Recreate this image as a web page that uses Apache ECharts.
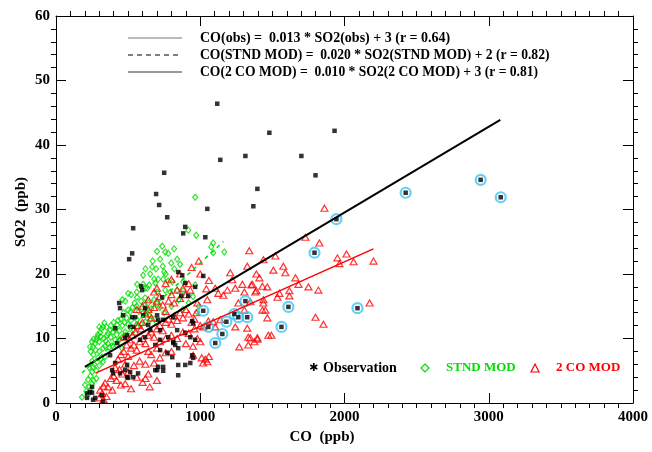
<!DOCTYPE html>
<html><head><meta charset="utf-8">
<script src="https://cdn.jsdelivr.net/npm/echarts@6/dist/echarts.min.js"></script>
<style>html,body{margin:0;padding:0;background:#fff}
#wrap{position:relative;width:652px;height:452px}
#axes,#c{position:absolute;left:0;top:0;width:652px;height:452px}</style>
</head><body><div id="wrap"><div id="axes"></div><div id="c"></div></div>
<script>
// Axis ticks
const xTicks = [0, 1000, 2000, 3000, 4000];
const yTicks = [0, 10, 20, 30, 40, 50, 60];

// Observation points [CO, SO2]
const obsPoints = [
[1118,46.4],[1479,41.9],[1931,42.2],[1139,37.7],[1313,38.3],[1701,38.3],[1799,35.3],[750,35.7],[1396,33.2],[694,32.4],
[715,30.7],[1049,30.1],[1368,30.5],[771,28.8],[535,27.1],[896,27.3],[882,26.3],[1035,25.7],[528,23.2],[507,22.3],
[847,20.3],[875,19.8],[1021,19.7],[896,18.6],[590,18.1],[597,17.5],[965,18.0],[438,15.5],[444,14.7],[618,14.7],
[528,13.3],[549,13.3],[701,13.6],[708,12.9],[813,13.3],[410,11.6],[514,11.8],[653,11.3],[722,11.3],[840,11.3],
[479,10.1],[618,10.2],[688,9.0],[722,8.2],[813,9.3],[847,8.5],[375,7.4],[410,6.2],[389,5.1],[396,4.6],
[493,5.9],[514,4.8],[569,4.6],[493,4.0],[535,4.0],[688,5.1],[743,5.6],[847,5.9],[896,5.9],[847,4.3],
[236,1.7],[257,0.5],[319,1.2],[326,0.2],[215,1.5],[868,16.6],[917,16.6],[736,16.4],[743,12.9],[944,12.7],
[951,12.4],[896,10.9],[931,10.2],[965,9.8],[722,9.8],[778,10.2],[813,9.5],[826,9.0],[806,7.1],[771,7.8],
[944,7.4],[951,7.0],[931,6.2],[743,5.0],[465,13.6],[604,13.6],[535,11.8],[639,12.1],[493,10.5],[424,9.3],
[583,9.8],[708,5.6],[701,5.1],[479,5.1],[444,4.6],[500,3.9],[250,2.5],[215,0.8],[271,0.8],[250,1.6]
];
// Highlighted (circled) observation points
const circledPoints = [
[2424,32.6],[2944,34.6],[3083,31.9],[1944,28.5],[1792,23.3],[1611,14.9],[1563,11.8],[2090,14.7],[1021,14.3],
[1056,11.8],[1104,9.3],[1153,10.7],[1181,12.6],[1236,13.8],[1264,13.3],[1313,15.8],[1326,13.3]
];
// STND MOD points
const stndPoints = [
[965,31.9],[917,26.8],[972,26.0],[1090,24.8],[1076,24.2],[1167,23.4],[1090,23.3],[736,24.3],[757,23.4],[778,23.2],
[819,23.9],[722,22.3],[799,21.7],[840,22.3],[667,21.1],[694,20.8],[750,20.3],[653,20.0],[743,19.2],[681,19.2],
[708,19.2],[778,18.9],[806,18.8],[604,18.4],[688,18.6],[882,18.8],[562,18.4],[646,18.3],[618,17.8],[840,17.5],
[882,17.4],[701,17.2],[965,18.3],[757,17.5],[792,17.2],[562,16.4],[618,16.3],[604,19.8],[632,17.8],[979,14.1],
[500,14.4],[514,14.1],[604,13.9],[653,12.9],[562,12.9],[424,12.1],[326,11.8],[375,11.3],[306,10.9],[354,10.5],
[285,10.2],[257,8.7],[236,8.7],[326,8.5],[410,9.8],[458,8.5],[292,7.0],[326,6.4],[257,5.6],[250,4.8],
[222,3.6],[201,2.8],[236,2.0],[180,0.9],[280,9.8],[300,9.5],[310,10.3],[330,10.0],[345,9.6],[360,10.8],
[380,10.2],[395,11.0],[410,11.5],[420,10.6],[440,11.2],[460,12.0],[475,12.5],[480,11.0],[500,12.2],[520,12.8],
[530,14.8],[545,15.5],[560,15.0],[575,14.2],[590,15.8],[610,15.2],[625,14.0],[640,15.5],[660,14.6],[680,16.0],
[700,15.4],[720,14.8],[490,13.2],[470,14.0],[450,13.0],[430,12.8],[400,12.5],[380,12.0],[350,11.8],[335,12.4],
[315,11.5],[300,11.8],[290,10.6],[270,9.2],[260,9.9],[250,9.5],[240,8.0],[260,7.5],[275,8.2],[300,8.0],
[340,8.8],[360,9.2],[370,8.6],[390,8.9],[420,9.0],[440,9.8],[460,10.2],[510,10.8],[540,11.3],[560,11.8],
[590,12.2],[620,12.6],[650,13.5],[680,13.0],[700,12.5],[250,6.5],[230,5.5],[265,6.0],[280,5.0],[300,5.8],
[240,4.2],[260,3.5],[230,2.5],[250,3.0],[210,1.8],[220,1.2],[280,3.8],[310,6.8],[340,7.2],[750,14.0],
[800,15.0],[850,16.0],[880,14.5],[920,15.5],[950,16.5],[990,15.0],[520,16.8],[560,17.2],[480,15.8],[500,17.0],
[460,16.0],[620,20.8],[670,22.0],[700,23.5],[740,21.2],[760,20.0],[820,20.8],[860,21.5]
];
// 2 CO MOD points
const twoCoPoints = [
[1729,25.7],[1826,24.8],[1861,30.2],[1438,22.2],[1521,22.8],[1951,22.5],[2014,23.1],[2063,21.9],[1965,21.6],[2201,22.0],
[1576,21.2],[1507,20.6],[1590,20.2],[1660,19.4],[1681,18.4],[1410,19.4],[1361,18.4],[1431,18.1],[1465,18.0],[1389,17.4],
[1750,18.0],[1819,17.5],[1618,17.4],[1549,17.0],[1618,16.6],[1535,16.4],[1438,16.0],[1438,15.5],[1431,14.4],[1451,14.4],
[1465,13.2],[2174,15.5],[1799,13.3],[1854,12.2],[1472,10.5],[1493,10.5],[1347,10.1],[1396,9.9],[1375,9.5],[1340,23.6],
[1326,21.2],[1208,20.2],[1389,20.0],[1222,19.1],[1292,18.4],[1354,18.3],[931,17.5],[1104,17.8],[1188,17.5],[1243,17.8],
[1306,17.2],[1382,17.2],[1125,17.0],[1049,16.0],[1347,15.7],[1264,15.5],[1306,14.4],[1090,12.6],[1056,12.7],[1139,12.9],
[1021,11.8],[1104,11.8],[1243,11.8],[1326,11.6],[1333,10.2],[1396,10.1],[1042,17.7],[1160,16.7],[972,14.0],[1271,8.7],
[1333,9.0],[1049,6.4],[1035,6.8],[1060,7.2],[1020,6.2],[1010,7.0],[951,7.4],
[320,1.5],[306,2.0],[340,3.1],[360,2.5],[380,3.8],[400,4.2],[420,3.5],[440,5.2],[460,4.5],[480,6.0],
[350,1.0],[330,2.6],[390,2.0],[410,5.5],[430,6.8],[450,7.5],[470,8.0],[500,7.2],[520,8.5],[540,9.0],
[560,8.2],[580,9.5],[600,10.0],[620,9.2],[640,10.5],[660,11.0],[680,10.2],[700,11.5],[720,12.0],[740,11.2],
[760,12.5],[780,13.0],[800,12.2],[820,13.5],[840,12.8],[860,14.0],[880,13.2],[900,14.5],[920,13.8],[940,12.5],
[960,13.0],[980,15.5],[600,12.5],[620,13.8],[640,14.5],[660,13.2],[680,14.8],[700,15.8],[720,16.5],[740,15.2],
[760,14.2],[780,15.8],[800,16.8],[820,15.5],[840,17.5],[860,16.2],[880,17.8],[900,16.8],[920,18.5],[550,11.0],
[570,12.0],[590,11.5],[530,10.5],[510,9.8],[490,9.0],[470,10.2],[640,8.0],[660,7.5],[700,8.5],[720,9.5],
[760,10.0],[800,10.5],[840,10.0],[880,11.0],[920,10.8],[960,11.5],[1000,12.0],[620,6.0],[580,6.5],[540,5.8],
[500,4.8],[560,4.0],[600,3.2],[640,4.5],[680,6.2],[720,7.0],[760,7.8],[800,8.0],[900,9.2],[950,8.8],
[980,10.0],[1000,9.5],[650,2.5],[620,3.8],[700,3.5],[450,2.8],[480,3.0],[520,2.2],[300,0.8],[330,0.5],
[560,14.5],[600,15.0],[640,16.0],[680,17.2],[700,17.8],[760,18.5],[800,19.2],[860,20.0],[940,21.0],[990,22.0],
[1000,20.0],[1060,19.0]
];

// Fit lines: [slope, intercept, xStart, xEnd]
const fitObs  = [0.0133, 2.93, 200, 3080];
const fitStnd = [0.0208, 0.9, 180, 1160];
const fitTwoCo = [0.0100, 1.9, 278, 2200];
const legendTexts = [
  'CO(obs) =  0.013 * SO2(obs) + 3 (r = 0.64)',
  'CO(STND MOD) =  0.020 * SO2(STND MOD) + 2 (r = 0.82)',
  'CO(2 CO MOD) =  0.010 * SO2(2 CO MOD) + 3 (r = 0.81)'
];

function fitLine(f){ return [[f[2], f[0]*f[2]+f[1]], [f[3], f[0]*f[3]+f[1]]]; }

const FONT = 'Liberation Serif';
const GREEN = '#00dd00', RED = '#ff0000';
const GRID = {left:56, right:19, top:16, bottom:49};

function mkAxis(ticks, pos, split, labels, visible){
  return {
    type:'value', min:ticks[0], max:ticks[ticks.length-1], interval:ticks[1]-ticks[0], position:pos,
    show: visible,
    axisLine:{show:true, onZero:false, lineStyle:{color:'#000', width:1}},
    axisTick:{show:true, inside:true, length:10, lineStyle:{color:'#000'}},
    minorTick:{show:true, splitNumber:split, length:-5, lineStyle:{color:'#000'}},
    splitLine:{show:false},
    axisLabel: labels ? {show:true, fontFamily:FONT, fontWeight:'bold', fontSize:15, color:'#000',
      margin: (pos==='bottom'?7:6), formatter:function(v){return String(v);}} : {show:false}
  };
}

// Layer 1: axes frame with ticks and labels
const axesChart = echarts.init(document.getElementById('axes'));
axesChart.setOption({
  animation:false,
  backgroundColor:'#fff',
  grid:GRID,
  xAxis:[ mkAxis(xTicks,'bottom',10,true,true), mkAxis(xTicks,'top',10,false,true) ],
  yAxis:[ mkAxis(yTicks,'left',5,true,true), mkAxis(yTicks,'right',5,false,true) ],
  series:[{type:'scatter', data:[]}],
  graphic:[
    {type:'text', x:322, y:437, style:{text:'CO  (ppb)', fontFamily:FONT, fontWeight:'bold', fontSize:15, fill:'#000', align:'center', verticalAlign:'middle'}},
    {type:'text', x:21, y:212, rotation:Math.PI/2, style:{text:'SO2  (ppb)', fontFamily:FONT, fontWeight:'bold', fontSize:15, fill:'#000', align:'center', verticalAlign:'middle'}}
  ]
});

// Layer 2: data, fits and legends on the same scales
const chart = echarts.init(document.getElementById('c'));
chart.setOption({
  animation:false,
  grid:GRID,
  xAxis:[ mkAxis(xTicks,'bottom',10,false,false) ],
  yAxis:[ mkAxis(yTicks,'left',5,false,false) ],
  series:[
    {type:'scatter', data:stndPoints, symbol:'diamond', symbolSize:[5,6],
      itemStyle:{color:'rgba(0,0,0,0)', borderColor:GREEN, borderWidth:1.2}},
    {type:'scatter', data:twoCoPoints, symbol:'triangle', symbolSize:[7,6],
      itemStyle:{color:'rgba(0,0,0,0)', borderColor:RED, borderWidth:1.2}},
    {type:'scatter', data:obsPoints, symbol:'rect', symbolSize:4.5,
      itemStyle:{color:'#000'}},
    {type:'scatter', data:circledPoints, symbol:'circle', symbolSize:10,
      itemStyle:{color:'rgba(0,0,0,0)', borderColor:'#3cc4f2', borderWidth:2.2}},
    {type:'scatter', data:circledPoints, symbol:'rect', symbolSize:4.5,
      itemStyle:{color:'#000'}},
    {type:'line', data:fitLine(fitObs), symbol:'none', lineStyle:{color:'#000', width:2}},
    {type:'line', data:fitLine(fitStnd), symbol:'none', lineStyle:{color:GREEN, width:1.5, type:[4,4]}},
    {type:'line', data:fitLine(fitTwoCo), symbol:'none', lineStyle:{color:RED, width:1.5}}
  ],
  graphic:[
    {type:'line', shape:{x1:128,y1:38,x2:182,y2:38}, style:{stroke:'#777', lineWidth:1.2}},
    {type:'line', shape:{x1:128,y1:55,x2:182,y2:55}, style:{stroke:'#000', lineWidth:1.2, lineDash:[5,4]}},
    {type:'line', shape:{x1:128,y1:72,x2:182,y2:72}, style:{stroke:'#333', lineWidth:1.2}},
    {type:'text', x:200, y:38, style:{text:legendTexts[0], fontFamily:FONT, fontWeight:'bold', fontSize:14, fill:'#000', verticalAlign:'middle'}},
    {type:'text', x:200, y:55, style:{text:legendTexts[1], fontFamily:FONT, fontWeight:'bold', fontSize:13.6, fill:'#000', verticalAlign:'middle'}},
    {type:'text', x:200, y:72, style:{text:legendTexts[2], fontFamily:FONT, fontWeight:'bold', fontSize:13.6, fill:'#000', verticalAlign:'middle'}},
    {type:'text', x:309, y:368, style:{text:'✱', fontFamily:'DejaVu Sans', fontWeight:'bold', fontSize:11, fill:'#000', verticalAlign:'middle'}},
    {type:'text', x:323, y:368, style:{text:'Observation', fontFamily:FONT, fontWeight:'bold', fontSize:14, fill:'#000', verticalAlign:'middle'}},
    {type:'polygon', shape:{points:[[425,364],[429,368],[425,372],[421,368]]}, style:{fill:'rgba(0,0,0,0)', stroke:GREEN, lineWidth:1.2}},
    {type:'text', x:446, y:368, style:{text:'STND MOD', fontFamily:FONT, fontWeight:'bold', fontSize:13, fill:GREEN, verticalAlign:'middle'}},
    {type:'polygon', shape:{points:[[535,364],[539,372],[531,372]]}, style:{fill:'rgba(0,0,0,0)', stroke:RED, lineWidth:1.2}},
    {type:'text', x:556, y:368, style:{text:'2 CO MOD', fontFamily:FONT, fontWeight:'bold', fontSize:13, fill:RED, verticalAlign:'middle'}}
  ]
});
</script></body></html>
